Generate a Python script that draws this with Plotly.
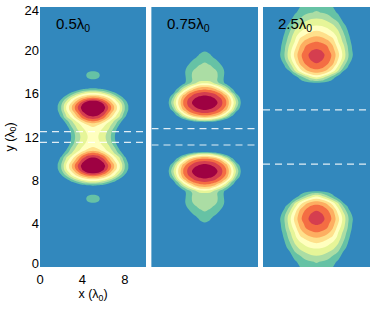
import numpy as np
import plotly.graph_objects as go

W, H = 370, 315
offsets = [0, .5, 1, 1.5, 2, 2.5, 3, 3.5, 4, 5]

# Values.
# Each row: y, then z at the x offsets from the centre (x=5); short rows end in zeros.
# The lower half of every panel mirrors the upper half about y=12.
p1_rows = [
    (12.0, [4.3, 4, 3.3, 2.5, 1.15]),
    (12.6, [4.6, 4.35, 3.6, 2.8, 1.5, .1]),
    (12.9, [4.95, 4.7, 4, 3.2, 2, .5]),
    (13.1, [5.3, 5, 4.3, 3.4, 2.4, .9, .05]),
    (13.3, [6.15, 5.8, 4.8, 3.7, 2.7, 1.2, .1]),
    (13.5, [7.3, 6.9, 5.8, 4.4, 3, 1.7, .3]),
    (13.7, [8.2, 7.9, 6.9, 5.3, 3.8, 2.4, .7, .05]),
    (13.9, [9, 8.7, 7.6, 6, 4.4, 3, 1.15, .15]),
    (14.1, [9.6, 9.3, 8.3, 6.5, 4.9, 3.3, 1.4, .25]),
    (14.3, [9.97, 9.7, 8.85, 7.05, 5.35, 3.75, 1.7, .35]),
    (14.5, [10.5, 10.2, 9.2, 7.6, 5.85, 4.05, 1.95, .5]),
    (14.7, [10.8, 10.4, 9.5, 7.8, 6, 4.15, 2, .5, .1]),
    (14.9, [10.5, 10.2, 9.2, 7.6, 5.85, 4.05, 1.95, .5]),
    (15.1, [9.97, 9.7, 8.85, 7.05, 5.35, 3.75, 1.7, .35]),
    (15.3, [9.25, 9, 7.8, 6.35, 4.7, 3.1, 1.35, .2]),
    (15.5, [7.9, 7.55, 6.7, 5.45, 4.15, 2.4, .9, .1]),
    (15.7, [6.5, 6.25, 5.5, 4.5, 3.15, 1.6, .45]),
    (15.9, [4.95, 4.8, 4.35, 3.3, 2.05, .85, .15]),
    (16.1, [3.8, 3.55, 2.9, 2.05, 1.1, .3]),
    (16.3, [2.15, 2, 1.6, .95, .35, .05]),
    (16.45, [1.2, 1.05, .8, .35, .1]),
    (16.7, []),
    (17.1, []),
    (17.33, [1, .5, .05]),
    (17.45, [1.15, 1, .4]),
    (17.7, [1.4, 1.15, .6, .1]),
    (17.95, [1.15, 1, .4]),
    (18.07, [1, .5, .05]),
    (18.3, []),
    (24.0, []),
]
p2_rows = [
    (12.0, []),
    (13.2, []),
    (13.3, [.2, .1]),
    (13.39, [1, .85, .5, .2]),
    (13.47, [2, 1.8, 1.3, .6, .1]),
    (13.57, [3.4, 3.2, 2.4, 1.35, .45, .05]),
    (13.77, [5.35, 5, 4.4, 3.4, 1.7, .45]),
    (13.97, [6.85, 6.65, 6.15, 4.7, 3.3, 1.25, .1]),
    (14.17, [7.85, 7.65, 7.1, 6.2, 4.35, 2.05, .35]),
    (14.37, [8.5, 8.35, 7.95, 7, 5.4, 3.4, .95, .05]),
    (14.57, [9.25, 8.95, 8.45, 7.6, 6.35, 4.15, 1.6, .15]),
    (14.77, [10, 9.7, 8.85, 8.05, 6.75, 4.6, 2.15, .3]),
    (14.97, [10.5, 10.2, 9.2, 8.3, 7.05, 4.9, 2.5, .4]),
    (15.17, [10.8, 10.4, 9.4, 8.4, 7.1, 5, 2.7, .5, .05]),
    (15.37, [10.5, 10.2, 9.2, 8.3, 7.05, 4.9, 2.5, .4]),
    (15.57, [10, 9.7, 8.85, 8.05, 6.75, 4.6, 2.15, .3]),
    (15.77, [9.25, 8.95, 8.45, 7.6, 6.35, 4.15, 1.6, .15]),
    (15.97, [8.5, 8.35, 7.95, 7, 5.4, 3.4, .95, .05]),
    (16.17, [7.95, 7.75, 7.15, 6.25, 4.4, 2.1, .35]),
    (16.37, [7.1, 6.85, 6.3, 5, 3.55, 1.5, .2]),
    (16.57, [6.2, 6, 5.2, 4.1, 2.5, .8]),
    (16.77, [5.1, 4.9, 4, 2.9, 1.4, .25]),
    (16.97, [4, 3.75, 2.7, 1.75, .7, .05]),
    (17.2, [2.9, 2.75, 2.25, 1.55, .55]),
    (17.6, [2.65, 2.55, 2.3, 1.6, .6]),
    (18.0, [2.5, 2.45, 2.2, 1.6, .7]),
    (18.4, [2.35, 2.2, 1.85, 1.35, .55]),
    (18.7, [2.15, 1.95, 1.5, 1, .25]),
    (19.0, [1.9, 1.75, 1.3, .65, .1]),
    (19.3, [1.6, 1.35, .85, .25]),
    (19.6, [1.3, 1.05, .5]),
    (19.9, [1, .75, .2]),
    (20.0, [.4, .2]),
    (20.4, []),
    (24.0, []),
]
p3_rows = [
    (12.0, []),
    (16.8, []),
    (16.9, [.2, .1]),
    (17.0, [1, .9, .55, .1]),
    (17.1, [1.5, 1.3, 1, .4, .05]),
    (17.25, [2.5, 2.2, 1.5, .9, .2]),
    (17.5, [4, 3.4, 2.4, 1.4, .5]),
    (17.8, [5.5, 5.1, 4.2, 2.9, 1.5, .3]),
    (18.1, [6.67, 6.4, 5.7, 4.5, 3, 1.1, .2]),
    (18.4, [7.35, 7.15, 6.5, 5.3, 3.7, 2, .7]),
    (18.8, [8, 7.7, 7.2, 6.3, 4.6, 2.8, 1.25, .2]),
    (19.2, [8.45, 8.15, 7.5, 6.7, 5.1, 3.5, 1.8, .5]),
    (19.6, [8.7, 8.35, 7.65, 6.8, 5.4, 3.7, 2, .75]),
    (20.0, [8.2, 7.95, 7.3, 6.5, 5.07, 3.54, 1.86, .6]),
    (20.4, [7.6, 7.35, 7, 6.1, 4.6, 3.25, 1.73, .5]),
    (20.8, [7, 6.85, 6.35, 5.6, 4.1, 2.8, 1.46, .35]),
    (21.3, [6, 5.8, 5.3, 4.75, 3.7, 2.4, 1.15, .25]),
    (21.8, [5, 4.8, 4.4, 3.85, 3.1, 1.9, .85, .1]),
    (22.3, [4, 3.9, 3.6, 3.2, 2.5, 1.3, .6]),
    (22.95, [3, 2.9, 2.6, 2.05, 1.5, .6, .1]),
    (23.5, [2.1, 1.95, 1.75, 1.4, .85, .15]),
    (24.0, [1.7, 1.6, 1.4, 1.05, .55, .05]),
]
panel_labels = ["0.5λ<sub>0</sub>", "0.75λ<sub>0</sub>", "2.5λ<sub>0</sub>"]
dashed_y = [[12.5, 11.5], [12.77, 11.26], [14.5, 9.5]]
band_colors = ["#3288bd", "#66c2a5", "#abdda4", "#e6f598", "#ffffbf", "#fee08b",
               "#fdae61", "#f46d43", "#d53e4f", "#9e0142"]
x_ticks = [0, 4, 8]
y_tick_vals = [0.35, 4, 8, 12, 16, 20, 23.7]
y_tick_text = ["0", "4", "8", "12", "16", "20", "24"]
x_domains_px = [(40, 146), (151.5, 258), (263, 370)]
label_left_px = [54, 165.3, 276.3]
PLOT_TOP, PLOT_BOTTOM = 7, 267
FONT = "Liberation Sans"


def expand(rows):
    ys = np.array([r[0] for r in rows], float)
    zs = np.array([list(r[1]) + [0] * (len(offsets) - len(r[1])) for r in rows], float)
    full_y = np.concatenate([24 - ys[:0:-1], ys])
    full_z = np.vstack([zs[:0:-1], zs])
    off = np.array(offsets, float)
    full_x = np.concatenate([5 - off[:0:-1], 5 + off])
    full_z = np.hstack([full_z[:, :0:-1], full_z])
    return full_x, full_y, full_z


n = len(band_colors)
scale = []
for i, c in enumerate(band_colors):
    scale += [[i / n, c], [(i + 1) / n, c]]

fig = go.Figure()
panels = [p1_rows, p2_rows, p3_rows]
layout = dict(width=W, height=H, autosize=False, margin=dict(l=0, r=0, t=0, b=0),
              paper_bgcolor="white", plot_bgcolor="#3288bd", showlegend=False,
              font=dict(family=FONT, size=13, color="black"))
annotations, shapes = [], []
for k, rows in enumerate(panels):
    s = "" if k == 0 else str(k + 1)
    x, y, z = expand(rows)
    fig.add_trace(go.Contour(x=x, y=y, z=z, xaxis="x" + s, yaxis="y" + s,
                             zmin=0, zmax=10, colorscale=scale, showscale=False,
                             autocontour=False, hoverinfo="skip",
                             contours=dict(start=1, end=9, size=1, coloring="fill"),
                             line=dict(width=0, smoothing=1)))
    d = x_domains_px[k]
    xa = dict(domain=[d[0] / W, d[1] / W], range=[0, 10], showgrid=False, automargin=False,
              zeroline=False, showline=False,
              tickmode="array", tickvals=x_ticks if k == 0 else [],
              ticks="", tickfont=dict(size=13), ticklabelstandoff=3, anchor="y" + s)
    ya = dict(domain=[1 - PLOT_BOTTOM / H, 1 - PLOT_TOP / H], range=[0, 24], showgrid=False,
              automargin=False, zeroline=False, showline=False,
              tickmode="array", tickvals=y_tick_vals if k == 0 else [],
              ticktext=y_tick_text if k == 0 else [],
              ticks="", tickfont=dict(size=13), anchor="x" + s)
    if k == 0:
        xa["title"] = dict(text="x (λ<sub>0</sub>)", font=dict(size=12.5), standoff=1)
        ya["title"] = dict(text="y (λ<sub>0</sub>)", font=dict(size=12.5), standoff=7)
    layout["xaxis" + s] = xa
    layout["yaxis" + s] = ya
    for yy in dashed_y[k]:
        shapes.append(dict(type="line", xref="x" + s, yref="y" + s, x0=0, x1=10, y0=yy, y1=yy,
                           line=dict(color="rgba(255,255,255,0.85)", width=1.2, dash="7px,5px")))
    annotations.append(dict(text=panel_labels[k], xref="x" + s + " domain", yref="y" + s + " domain",
                            x=(label_left_px[k] - d[0]) / (d[1] - d[0]),
                            y=(PLOT_BOTTOM - 24) / (PLOT_BOTTOM - PLOT_TOP),
                            xanchor="left", yanchor="middle",
                            showarrow=False, font=dict(size=15, family=FONT, color="black")))

layout["annotations"] = annotations
layout["shapes"] = shapes
fig.update_layout(**layout)
page_setup = "document.body.style.margin='0';document.documentElement.style.overflow='hidden';"
fig.write_html("out.html", config={"displayModeBar": False}, post_script=page_setup)
